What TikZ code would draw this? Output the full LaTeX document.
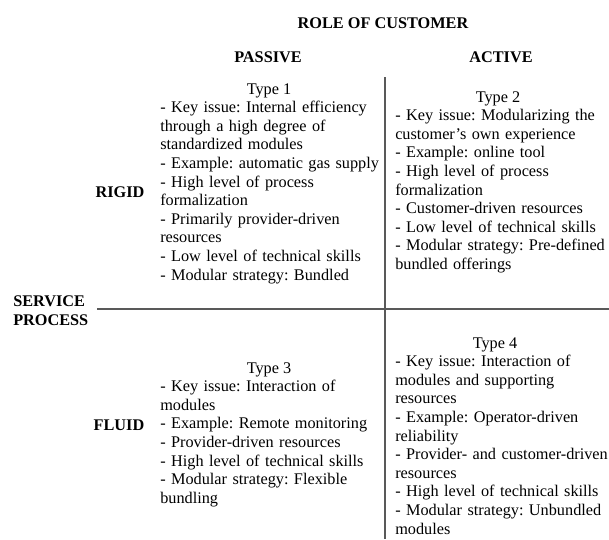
\documentclass[tikz,border=0pt]{standalone}
\usepackage{fontspec}
\setmainfont{Liberation Serif}
\frenchspacing
\begin{document}
\begin{tikzpicture}[
	head/.style={font=\bfseries\fontsize{12.2}{14}\selectfont, inner sep=0pt},
	title/.style={font=\fontsize{12.2}{14}\selectfont, inner sep=0pt, anchor=base},
	cell/.style={font=\fontsize{12.2}{13.95}\selectfont, inner sep=0pt, anchor=base west, text width=180pt, align=left},
	axis/.style={line width=1.1pt, black!65}
	]
	\begin{scope}[x={0.75pt},y={-0.75pt}]
		% picture in pixels, y pointing down
		\useasboundingbox (0,0) rectangle (609,539);

		\coordinate (vtop) at (385,77);
		\coordinate (vbot) at (385,539);
		\coordinate (hleft) at (97,309);
		\coordinate (hright) at (609,309);

		\draw[axis] (vtop)--(vbot); % customer split
		\draw[axis] (hleft)--(hright); % process split

		\node[head] (role) at (383,23) {ROLE OF CUSTOMER};
		\node[head] (passive) at (268,57) {PASSIVE};
		\node[head] (active) at (501,57) {ACTIVE};
		\node[head, align=left, anchor=west] (process) at (13,311) {SERVICE\\PROCESS};
		\node[head] (rigid) at (120,192) {RIGID};
		\node[head] (fluid) at (119,425) {FLUID};

		% type 1
		\node[title] (t1) at (269,94) {Type 1};
		\node[cell] (c1) at (160,112.6) {- Key issue: Internal efficiency\\
			through a high degree of\\
			standardized modules\\
			- Example: automatic gas supply\\
			- High level of process\\
			formalization\\
			- Primarily provider-driven\\
			resources\\
			- Low level of technical skills\\
			- Modular strategy: Bundled};

		% type 2
		\node[title] (t2) at (498,102) {Type 2};
		\node[cell] (c2) at (395,120.6) {- Key issue: Modularizing the\\
			customer's own experience\\
			- Example: online tool\\
			- High level of process\\
			formalization\\
			- Customer-driven resources\\
			- Low level of technical skills\\
			- Modular strategy: Pre-defined\\
			bundled offerings};

		% type 3
		\node[title] (t3) at (269,373) {Type 3};
		\node[cell] (c3) at (160,391.6) {- Key issue: Interaction of\\
			modules\\
			- Example: Remote monitoring\\
			- Provider-driven resources\\
			- High level of technical skills\\
			- Modular strategy: Flexible\\
			bundling};

		% type 4
		\node[title] (t4) at (495,348) {Type 4};
		\node[cell] (c4) at (395,366.6) {- Key issue: Interaction of\\
			modules and supporting\\
			resources\\
			- Example: Operator-driven\\
			reliability\\
			- Provider- and customer-driven\\
			resources\\
			- High level of technical skills\\
			- Modular strategy: Unbundled\\
			modules};
	\end{scope}
\end{tikzpicture}
\end{document}
